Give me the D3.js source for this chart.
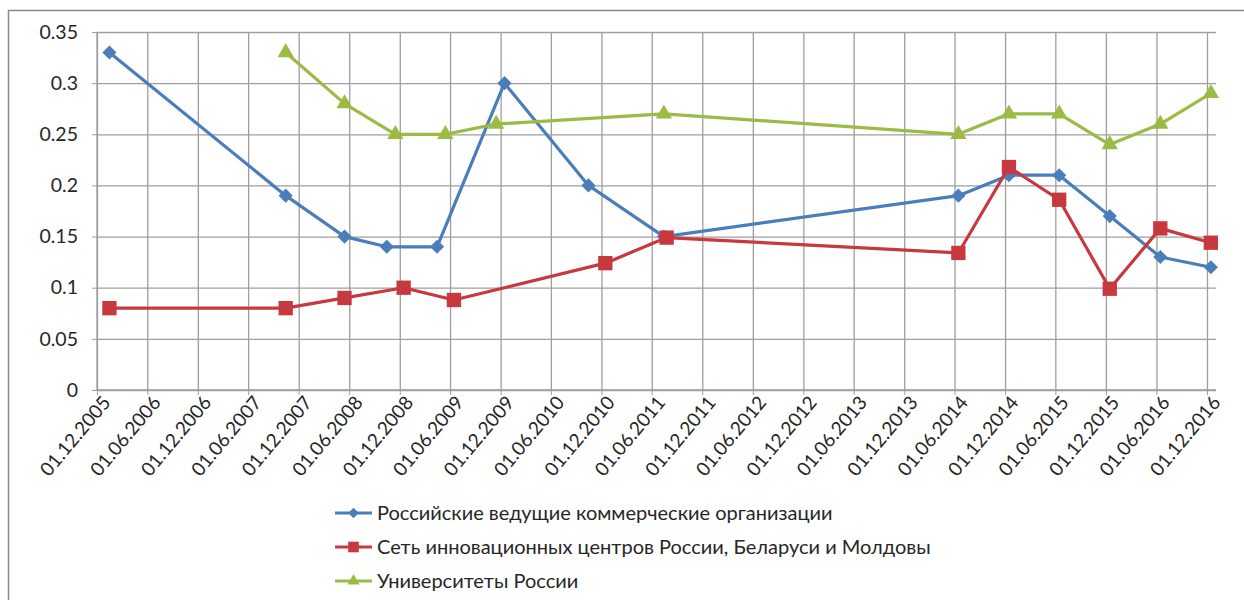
<!DOCTYPE html>
<html>
<head>
<meta charset="utf-8">
<script src="https://cdnjs.cloudflare.com/ajax/libs/d3/7.8.5/d3.min.js"></script>
<style>
  html, body { margin: 0; padding: 0; background: #fff; }
  svg { display: block; }
  text { font-family: Lato, "Open Sans", "Noto Sans", sans-serif; fill: #262626; }
</style>
</head>
<body>
<svg id="chart" width="1244" height="600"></svg>
<script>
// Tick labels of the date axis (every six months)
const tickLabels = [
  "01.12.2005","01.06.2006","01.12.2006","01.06.2007","01.12.2007","01.06.2008",
  "01.12.2008","01.06.2009","01.12.2009","01.06.2010","01.12.2010","01.06.2011",
  "01.12.2011","01.06.2012","01.12.2012","01.06.2013","01.12.2013","01.06.2014",
  "01.12.2014","01.06.2015","01.12.2015","01.06.2016","01.12.2016"
];
const yTickValues = [0, 0.05, 0.1, 0.15, 0.2, 0.25, 0.3, 0.35];

const seriesNames = [
  "Российские ведущие коммерческие организации",
  "Сеть инновационных центров России, Беларуси и Молдовы",
  "Университеты России"
];

// Series 1
const commercialDates = [
  "15.01.2006","15.10.2007","15.05.2008","15.10.2008","15.04.2009","15.12.2009",
  "15.10.2010","15.07.2011","15.06.2014","15.12.2014","15.06.2015","15.12.2015",
  "15.06.2016","15.12.2016"
];
const commercialValues = [0.33, 0.19, 0.15, 0.14, 0.14, 0.30, 0.20, 0.15, 0.19, 0.21, 0.21, 0.17, 0.13, 0.12];

// Series 2
const innovationDates = [
  "15.01.2006","15.10.2007","15.05.2008","15.12.2008","15.06.2009","15.12.2010",
  "25.07.2011","15.06.2014","15.12.2014","15.06.2015","15.12.2015","15.06.2016",
  "15.12.2016"
];
const innovationValues = [0.08, 0.08, 0.09, 0.10, 0.088, 0.124, 0.149, 0.134, 0.218, 0.186, 0.099, 0.158, 0.144];

// Series 3
const universityDates = [
  "15.10.2007","15.05.2008","15.11.2008","15.05.2009","15.11.2009","15.07.2011",
  "15.06.2014","15.12.2014","15.06.2015","15.12.2015","15.06.2016","15.12.2016"
];
const universityValues = [0.33, 0.28, 0.25, 0.25, 0.26, 0.27, 0.25, 0.27, 0.27, 0.24, 0.26, 0.29];

const parse = d3.timeParse("%d.%m.%Y");
const fmtDate = d3.timeFormat("%d.%m.%Y");

const svg = d3.select("#chart");

// Chart area frame (top and left edges)
svg.append("path")
  .attr("d", "M8.5,600 V10.5 H1244")
  .attr("fill", "none")
  .attr("stroke", "#8a8a8a")
  .attr("stroke-width", 1.5);

const plot = { left: 97, right: 1216, top: 32, bottom: 390 };

const x = d3.scaleTime()
  .domain([parse(tickLabels[0]), parse(tickLabels[tickLabels.length - 1])])
  .range([plot.left, 1207]);
const y = d3.scaleLinear().domain([0, 0.35]).range([plot.bottom, plot.top]);

const gridColor = "#9e9e9e";

// Horizontal gridlines
svg.append("g")
  .attr("transform", `translate(${plot.left},0)`)
  .call(d3.axisLeft(y).tickValues(yTickValues).tickSize(-(plot.right - plot.left)).tickFormat(""))
  .call(g => g.select(".domain").remove())
  .call(g => g.selectAll("line").attr("stroke", gridColor).attr("stroke-width", 1.3));

// Vertical gridlines
svg.append("g")
  .attr("transform", `translate(0,${plot.bottom})`)
  .call(d3.axisBottom(x).tickValues(tickLabels.map(parse)).tickSize(-(plot.bottom - plot.top)).tickFormat(""))
  .call(g => g.select(".domain").remove())
  .call(g => g.selectAll("line").attr("stroke", gridColor).attr("stroke-width", 1.3));

// Y axis with labels
const yAxis = svg.append("g")
  .attr("transform", `translate(${plot.left},0)`)
  .call(d3.axisLeft(y).tickValues(yTickValues).tickSize(5).tickPadding(14)
    .tickFormat(d => String(+d.toFixed(2))));
yAxis.select(".domain").attr("stroke", gridColor).attr("stroke-width", 1.3).attr("d", `M0,${plot.top}V${plot.bottom}`);
yAxis.selectAll("line").attr("stroke", gridColor);
yAxis.selectAll("text").style("font-size", "19.5px").attr("fill", "#262626");

// X axis with rotated date labels
const xAxis = svg.append("g")
  .attr("transform", `translate(0,${plot.bottom})`)
  .call(d3.axisBottom(x).tickValues(tickLabels.map(parse)).tickSize(5).tickFormat(fmtDate));
xAxis.select(".domain").attr("stroke", gridColor).attr("stroke-width", 1.3)
  .attr("d", `M${plot.left},0H${plot.right}`);
xAxis.selectAll("line").attr("stroke", gridColor);
xAxis.selectAll("text")
  .style("font-size", "19px")
  .attr("text-anchor", "end")
  .attr("dy", null)
  .attr("y", 0)
  .attr("transform", "translate(14,13) rotate(-50)")
  .attr("fill", "#262626");

// Series
const series = [
  { name: seriesNames[0], dates: commercialDates, values: commercialValues, color: "#4a7ebb",
    symbol: d3.symbolSquare, size: 100, rotate: 45 },
  { name: seriesNames[1], dates: innovationDates, values: innovationValues, color: "#c8383f",
    symbol: d3.symbolSquare, size: 205, rotate: 0 },
  { name: seriesNames[2], dates: universityDates, values: universityValues, color: "#9bbb45",
    symbol: d3.symbolTriangle, size: 115, rotate: 0 }
];

const line = d3.line().x(d => x(d.date)).y(d => y(d.value));

series.forEach(s => {
  const pts = s.dates.map((d, i) => ({ date: parse(d), value: s.values[i] }));
  const g = svg.append("g");
  g.append("path")
    .datum(pts)
    .attr("d", line)
    .attr("fill", "none")
    .attr("stroke", s.color)
    .attr("stroke-width", 3.2)
    .attr("stroke-linejoin", "round");
  g.selectAll("path.marker")
    .data(pts)
    .join("path")
    .attr("class", "marker")
    .attr("d", d3.symbol().type(s.symbol).size(s.size))
    .attr("transform", d => `translate(${x(d.date)},${y(d.value)}) rotate(${s.rotate})`)
    .attr("fill", s.color);
});

// Legend
const legend = svg.append("g").attr("transform", "translate(335,513)");
series.forEach((s, i) => {
  const row = legend.append("g").attr("transform", `translate(0,${i * 34})`);
  row.append("line")
    .attr("x1", 0).attr("x2", 37).attr("y1", 0).attr("y2", 0)
    .attr("stroke", s.color).attr("stroke-width", 3);
  row.append("path")
    .attr("d", d3.symbol().type(s.symbol).size(s.size * 0.55))
    .attr("transform", `translate(18.5,0) rotate(${s.rotate})`)
    .attr("fill", s.color);
  row.append("text")
    .attr("x", 42).attr("y", 0).attr("dy", "0.35em")
    .style("font-size", "20px")
    .text(s.name);
});
</script>
</body>
</html>
